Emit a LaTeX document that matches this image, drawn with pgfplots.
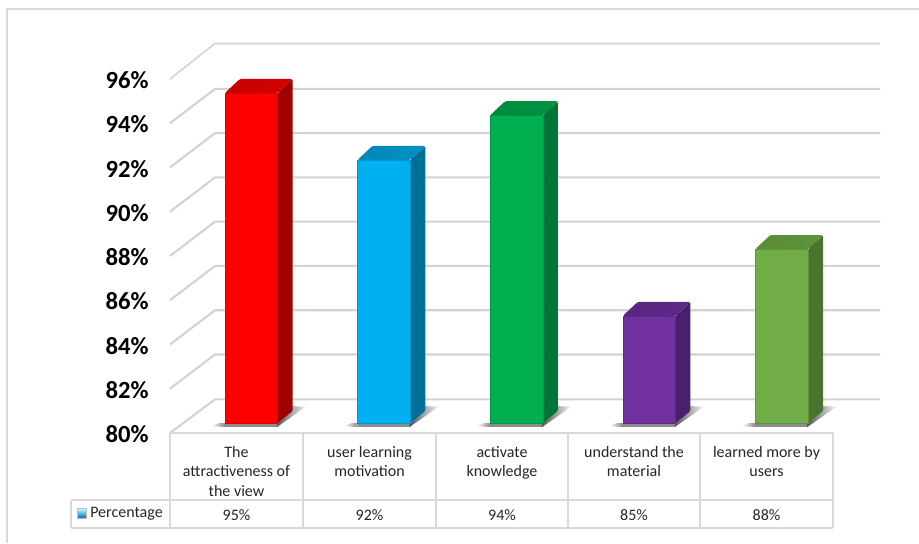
\documentclass[border=0pt]{standalone}
\usepackage{fontspec}
\setmainfont{Carlito}
\usepackage{pgfplots}
\pgfplotsset{compat=1.18}
\definecolor{gridc}{HTML}{D3D3D3}
\definecolor{framec}{HTML}{D9D9D9}
\definecolor{barA}{HTML}{FF0000}\definecolor{barAt}{HTML}{C80000}\definecolor{barAs}{HTML}{A00000}
\definecolor{barB}{HTML}{00B0F0}\definecolor{barBt}{HTML}{0088B8}\definecolor{barBs}{HTML}{006F98}
\definecolor{barC}{HTML}{00B050}\definecolor{barCt}{HTML}{008A3E}\definecolor{barCs}{HTML}{007535}
\definecolor{barD}{HTML}{7030A0}\definecolor{barDt}{HTML}{5A2680}\definecolor{barDs}{HTML}{4A1F6C}
\definecolor{barE}{HTML}{70AD47}\definecolor{barEt}{HTML}{5A8C38}\definecolor{barEs}{HTML}{4B7330}
\newcommand{\barshadow}[1]{%
  \shade[left color=white,right color=black!45,draw=none] (axis cs:#1-14,80.30)--(axis cs:#1,80.27)--(axis cs:#1,80.45)--(axis cs:#1-6,80.45)--cycle;
  \fill[black!45,draw=none] (axis cs:#1,80.27)--(axis cs:#1+53,80.27)--(axis cs:#1+53,80.45)--(axis cs:#1,80.45)--cycle;
  \shade[left color=black!65,right color=black!4,draw=none] (axis cs:#1+52,80.27)--(axis cs:#1+81,81.19)--(axis cs:#1+64,81.22)--(axis cs:#1+52,80.6)--cycle;
}
\tikzset{tabval/.style={font=\fontsize{12}{14}\selectfont,text=black!85}}
\begin{document}
\begin{tikzpicture}
\path[use as bounding box] (0,0) rectangle (689.25pt,407.25pt);
% outer frame
\draw[framec,line width=1.5pt] (5.25pt,0)--(5.25pt,400.5pt)--(689.25pt,400.5pt);
\begin{axis}[
  at={(127.5pt,82.5pt)},anchor=south west,
  width=532.5pt,height=292.1pt,scale only axis,
  xmin=170,xmax=880,ymin=80,ymax=97.6,
  clip=false,
  axis line style={draw=none},
  major tick length=0pt,
  ytick={80,82,84,86,88,90,92,94,96},
  yticklabels={80\%,82\%,84\%,86\%,88\%,90\%,92\%,94\%,96\%},
  yticklabel style={font=\fontsize{18.5}{20}\selectfont\bfseries,anchor=east,xshift=-12.6pt,yshift=-1pt},
  xtick={236.5,369.5,502,634,766.5},
  xticklabels={The\\attractiveness of\\the view,user learning\\motivation,activate\\knowledge,understand the\\material,learned more by\\users},
  xticklabel style={font=\fontsize{12}{14.5}\selectfont,align=center,anchor=north,yshift=-6.5pt,text=black!85},
  /pgf/number format/assume math mode=true,
]
% back wall grid lines
\addplot[gridc,line width=1.6pt,line join=round] coordinates {(170,80)(215,81.52)(880,81.52)};
\addplot[gridc,line width=1.6pt,line join=round] coordinates {(170,82)(215,83.55)(880,83.55)};
\addplot[gridc,line width=1.6pt,line join=round] coordinates {(170,84)(215,85.55)(880,85.55)};
\addplot[gridc,line width=1.6pt,line join=round] coordinates {(170,86)(215,87.55)(880,87.55)};
\addplot[gridc,line width=1.6pt,line join=round] coordinates {(170,88)(215,89.55)(880,89.55)};
\addplot[gridc,line width=1.6pt,line join=round] coordinates {(170,90)(215,91.55)(880,91.55)};
\addplot[gridc,line width=1.6pt,line join=round] coordinates {(170,92)(215,93.55)(880,93.55)};
\addplot[gridc,line width=1.6pt,line join=round] coordinates {(170,94)(215,95.55)(880,95.55)};
\addplot[gridc,line width=1.2pt,line join=round] coordinates {(170,96)(215,97.6)(880,97.6)};
% shadows
\barshadow{225}
\barshadow{357.6}
\barshadow{490.2}
\barshadow{622.8}
\barshadow{755.4}
% data table
\addplot[framec,line width=1.5pt] coordinates {(170,80)(833,80)};
\addplot[framec,line width=1.5pt] coordinates {(71,75.71)(833,75.71)};
\addplot[framec,line width=1.5pt] coordinates {(71,76.97)(833,76.97)};
\addplot[framec,line width=1.5pt] coordinates {(71,76.97)(71,75.71)};
\addplot[framec,line width=1.5pt] coordinates {(170,80)(170,75.71)};
\addplot[framec,line width=1.5pt] coordinates {(303,80)(303,75.71)};
\addplot[framec,line width=1.5pt] coordinates {(436,80)(436,75.71)};
\addplot[framec,line width=1.5pt] coordinates {(568,80)(568,75.71)};
\addplot[framec,line width=1.5pt] coordinates {(700,80)(700,75.71)};
\addplot[framec,line width=1.5pt] coordinates {(833,80)(833,75.71)};
% table values
\node[tabval] at (axis cs:236.5,76.30) {95\%};
\node[tabval] at (axis cs:369.5,76.30) {92\%};
\node[tabval] at (axis cs:502,76.30) {94\%};
\node[tabval] at (axis cs:634,76.30) {85\%};
\node[tabval] at (axis cs:766.5,76.30) {88\%};
\node[tabval,anchor=west,inner sep=0pt] at (axis cs:90,76.33) {Percentage};
\shade[top color=cyan!30!white,bottom color=blue!45!cyan!70!black,draw=black!25,line width=.3pt] (axis cs:77.5,76.14) rectangle (axis cs:86.5,76.58);
\end{axis}
\begin{axis}[
  at={(138.75pt,90pt)},anchor=south west,
  width=497.25pt,height=280.95pt,scale only axis,
  xmin=-0.5,xmax=4.5,ymin=80.2,ymax=97,
  axis lines=none,
]
% side faces
\addplot[fill=barAs,draw=none,rounded corners=1pt] coordinates {(0.199,95)(0.312,95.63)(0.312,80.74)(0.199,80.2)} --cycle;
\addplot[fill=barBs,draw=none,rounded corners=1pt] coordinates {(1.199,92)(1.312,92.63)(1.312,80.74)(1.199,80.2)} --cycle;
\addplot[fill=barCs,draw=none,rounded corners=1pt] coordinates {(2.199,94)(2.312,94.63)(2.312,80.74)(2.199,80.2)} --cycle;
\addplot[fill=barDs,draw=none,rounded corners=1pt] coordinates {(3.199,85)(3.312,85.63)(3.312,80.74)(3.199,80.2)} --cycle;
\addplot[fill=barEs,draw=none,rounded corners=1pt] coordinates {(4.199,88)(4.312,88.63)(4.312,80.74)(4.199,80.2)} --cycle;
% top faces
\addplot[left color=barAt,right color=barAt!80!barA,draw=none,rounded corners=1pt] coordinates {(-0.199,95)(0.199,95)(0.312,95.63)(-0.086,95.63)} --cycle;
\addplot[left color=barBt,right color=barBt!80!barB,draw=none,rounded corners=1pt] coordinates {(0.801,92)(1.199,92)(1.312,92.63)(0.914,92.63)} --cycle;
\addplot[left color=barCt,right color=barCt!80!barC,draw=none,rounded corners=1pt] coordinates {(1.801,94)(2.199,94)(2.312,94.63)(1.914,94.63)} --cycle;
\addplot[left color=barDt,right color=barDt!80!barD,draw=none,rounded corners=1pt] coordinates {(2.801,85)(3.199,85)(3.312,85.63)(2.914,85.63)} --cycle;
\addplot[left color=barEt,right color=barEt!80!barE,draw=none,rounded corners=1pt] coordinates {(3.801,88)(4.199,88)(4.312,88.63)(3.914,88.63)} --cycle;
% front faces: the values
\addplot[ybar,bar width=39.5pt,bar shift=0pt,fill=barA,draw=barA!85!black,line width=.4pt] coordinates {(0,95)};
\addplot[ybar,bar width=39.5pt,bar shift=0pt,fill=barB,draw=barB!85!black,line width=.4pt] coordinates {(1,92)};
\addplot[ybar,bar width=39.5pt,bar shift=0pt,fill=barC,draw=barC!85!black,line width=.4pt] coordinates {(2,94)};
\addplot[ybar,bar width=39.5pt,bar shift=0pt,fill=barD,draw=barD!85!black,line width=.4pt] coordinates {(3,85)};
\addplot[ybar,bar width=39.5pt,bar shift=0pt,fill=barE,draw=barE!85!black,line width=.4pt] coordinates {(4,88)};
\end{axis}
\end{tikzpicture}
\end{document}
